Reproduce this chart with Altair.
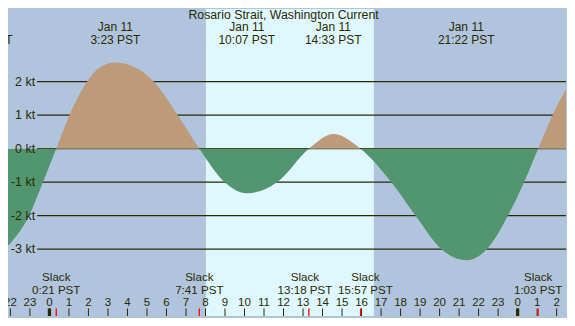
import altair as alt
import pandas as pd

# ---------------- data ----------------
title_text = "Rosario Strait, Washington Current"

# tidal current (kt) vs hours since midnight Jan 11 (PST)
curve_hours = [-2.124, -1.045, -0.333, 0.35, 1.025, 1.94, 2.52, 3.383, 4.51, 5.338,
               6.58, 7.683, 8.985, 10.117, 11.67, 13.3, 14.55, 15.95,
               17.53, 18.77, 20.10, 21.367, 22.42, 23.5, 24.33, 25.05, 25.79, 26.48]
curve_knots = [-2.9, -2.0, -1.0, 0.0, 1.0, 2.0, 2.4, 2.57, 2.39, 2.0,
               1.0, 0.0, -1.0, -1.33, -1.0, 0.0, 0.44, 0.0,
               -1.0, -2.0, -3.0, -3.33, -3.0, -2.0, -1.0, 0.0, 1.0, 1.78]

slack_hours = [0.35, 7.683, 13.3, 15.95, 25.05]
slack_label_hours = [0.35, 7.683, 13.1, 16.2, 25.05]
slack_times = ["0:21 PST", "7:41 PST", "13:18 PST", "15:57 PST", "1:03 PST"]

max_hours = [-3.34, 3.383, 10.117, 14.55, 21.367]
max_dates = ["Jan 10", "Jan 11", "Jan 11", "Jan 11", "Jan 11"]
max_times = ["20:40 PST", "3:23 PST", "10:07 PST", "14:33 PST", "21:22 PST"]

grid_levels = [2, 1, 0, -1, -2, -3]
grid_labels = ["2 kt", "1 kt", "0 kt", "-1 kt", "-2 kt", "-3 kt"]

hour_ticks = list(range(-2, 27))
hour_labels = [str(h % 24) for h in hour_ticks]
midnight_ticks = [0, 24]

sunrise_hour = 8.02
sunset_hour = 16.63

# ---------------- layout / style ----------------
W, H = 559, 310
X0, X1 = -2.124, 26.48
Y0, Y1 = -4.992, 4.166
FONT = "Liberation Sans"
NIGHT = "#b0c4de"
DAY = "#dff7fe"
FLOOD = "#bc9a7a"
EBB = "#52966f"
INK = "#2a2a00"

xs = alt.Scale(domain=[X0, X1], nice=False, zero=False)
ys = alt.Scale(domain=[Y0, Y1], nice=False, zero=False)
X = lambda f: alt.X(f, type="quantitative", scale=xs, axis=None)
Y = lambda f: alt.Y(f, type="quantitative", scale=ys, axis=None)

# day band
band_df = pd.DataFrame({"a": [sunrise_hour], "b": [sunset_hour], "top": [Y1], "bot": [Y0]})
band = alt.Chart(band_df).mark_rect(color=DAY).encode(
    x=X("a"), x2="b", y=Y("top"), y2="bot")

# grid lines
n = len(grid_levels)
grid_df = pd.DataFrame({"level": grid_levels, "label": grid_labels,
                        "xs": [-0.632] * n, "xe": [X1] * n, "xl": [-0.731] * n})
grid = alt.Chart(grid_df).mark_rule(color=INK, strokeWidth=1.3).encode(
    x=X("xs"), x2="xe", y=Y("level"))
grid_text = alt.Chart(grid_df).mark_text(
    align="right", baseline="middle", font=FONT, fontSize=12.5, color=INK).encode(
    x=X("xl"), y=Y("level"), text="label:N")

# current area with sign-split gradient (flood above zero, ebb below)
kmax, kmin = max(curve_knots), min(curve_knots)
off = kmax / (kmax - kmin)
grad = alt.Gradient(
    gradient="linear", x1=0, x2=0, y1=0, y2=1,
    stops=[alt.GradientStop(color=FLOOD, offset=0),
           alt.GradientStop(color=FLOOD, offset=off),
           alt.GradientStop(color=EBB, offset=off),
           alt.GradientStop(color=EBB, offset=1)])
curve_df = pd.DataFrame({"h": curve_hours, "v": curve_knots})
area = alt.Chart(curve_df).mark_area(color=grad, interpolate="monotone", clip=True).encode(
    x=X("h"), y=Y("v"), y2=alt.datum(0))

# top labels (maxima)
m = len(max_hours)
max_df = pd.DataFrame({"h": max_hours, "d": max_dates, "t": max_times,
                       "yd": [3.62] * m, "yt": [3.245] * m})
max_d = alt.Chart(max_df).mark_text(
    baseline="middle", font=FONT, fontSize=12, color=INK, clip=True).encode(
    x=X("h"), y=Y("yd"), text="d:N")
max_t = alt.Chart(max_df).mark_text(
    baseline="middle", font=FONT, fontSize=12, color=INK, clip=True).encode(
    x=X("h"), y=Y("yt"), text="t:N")

title_df = pd.DataFrame({"h": [12.0], "y": [4.0], "t": [title_text]})
title = alt.Chart(title_df).mark_text(
    baseline="middle", font=FONT, fontSize=12.3, color=INK).encode(
    x=X("h"), y=Y("y"), text="t:N")

# slack labels
s = len(slack_hours)
slack_df = pd.DataFrame({"h": slack_hours, "hl": slack_label_hours, "t": slack_times,
                         "s": ["Slack"] * s,
                         "ys": [-3.845] * s, "yt": [-4.237] * s,
                         "r0": [-4.767] * s, "r1": [Y0] * s})
slack_s = alt.Chart(slack_df).mark_text(
    baseline="middle", font=FONT, fontSize=11.6, color=INK, clip=True).encode(
    x=X("hl"), y=Y("ys"), text="s:N")
slack_t = alt.Chart(slack_df).mark_text(
    baseline="middle", font=FONT, fontSize=11.6, color=INK, clip=True).encode(
    x=X("hl"), y=Y("yt"), text="t:N")

# hour ticks and labels
k = len(hour_ticks)
hour_df = pd.DataFrame({"h": hour_ticks, "lab": hour_labels,
                        "yl": [-4.615] * k, "r0": [-4.767] * k, "r1": [Y0] * k})
hour_text = alt.Chart(hour_df).mark_text(
    baseline="middle", font=FONT, fontSize=11.5, color=INK, clip=True).encode(
    x=X("h"), y=Y("yl"), text="lab:N")
hour_rule = alt.Chart(hour_df).mark_rule(color=INK, strokeWidth=1).encode(
    x=X("h"), y=Y("r0"), y2="r1")
mid_df = pd.DataFrame({"h": midnight_ticks, "r0": [-4.767] * 2, "r1": [Y0] * 2})
mid_rule = alt.Chart(mid_df).mark_rule(color=INK, strokeWidth=3.3).encode(
    x=X("h"), y=Y("r0"), y2="r1")
red_rule = alt.Chart(slack_df).mark_rule(color="#ff0000", strokeWidth=1.3).encode(
    x=X("h"), y=Y("r0"), y2="r1")

chart = alt.layer(
    band, grid, area, grid_text, max_d, max_t, title,
    slack_s, slack_t, hour_text, hour_rule, mid_rule, red_rule
).properties(
    width=W, height=H, background=NIGHT, padding=0,
    autosize=alt.AutoSizeParams(type="fit", contains="padding")
).configure_view(strokeWidth=0)

chart.save("out.html", embed_options={"renderer": "svg", "actions": False})
